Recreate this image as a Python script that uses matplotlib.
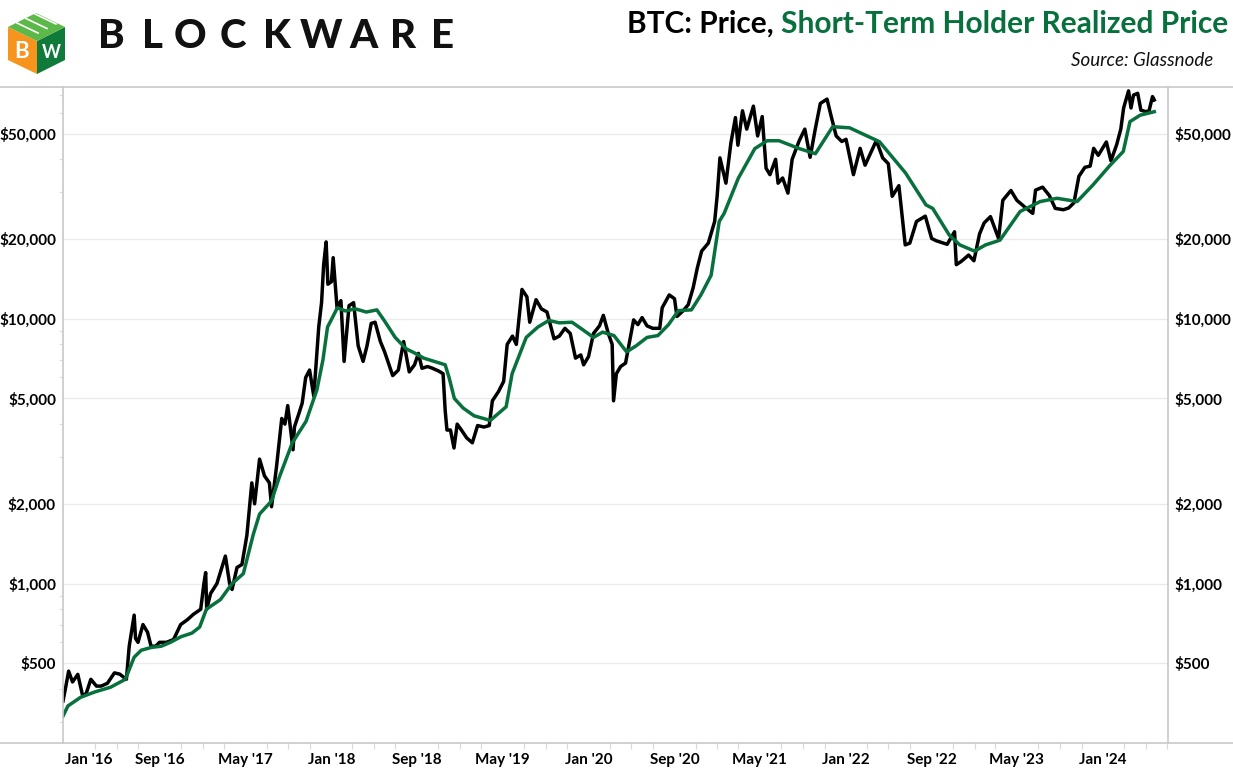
import pandas as pd
import matplotlib
matplotlib.use("Agg")
import matplotlib.pyplot as plt
import matplotlib.dates as mdates
import matplotlib.ticker as mticker
from matplotlib.lines import Line2D
from matplotlib.patches import Polygon
from matplotlib.transforms import ScaledTranslation

plt.rcParams['font.family'] = ['Lato', 'DejaVu Sans']

# BTC price
price_dates = [
    '2015-12-01', '2015-12-10', '2015-12-17', '2015-12-28', '2016-01-12', '2016-01-26', '2016-02-05',
    '2016-02-18', '2016-03-05', '2016-03-18', '2016-04-05', '2016-04-25', '2016-05-10', '2016-05-29',
    '2016-06-06', '2016-06-20', '2016-06-24', '2016-07-01', '2016-07-15', '2016-07-28', '2016-08-07',
    '2016-08-20', '2016-08-31', '2016-09-20', '2016-10-10', '2016-10-30', '2016-11-18', '2016-12-05',
    '2016-12-26', '2017-01-04', '2017-01-09', '2017-01-12', '2017-01-23', '2017-02-10', '2017-03-06',
    '2017-03-18', '2017-03-25', '2017-04-08', '2017-04-22', '2017-05-06', '2017-05-20', '2017-05-28',
    '2017-06-11', '2017-06-25', '2017-07-09', '2017-07-15', '2017-07-29', '2017-08-13', '2017-08-22',
    '2017-08-30', '2017-09-14', '2017-09-18', '2017-10-01', '2017-10-10', '2017-10-20', '2017-10-31',
    '2017-11-12', '2017-11-26', '2017-12-04', '2017-12-10', '2017-12-17', '2017-12-22', '2018-01-01',
    '2018-01-06', '2018-01-17', '2018-01-28', '2018-02-06', '2018-02-20', '2018-03-05', '2018-03-18',
    '2018-04-01', '2018-04-12', '2018-04-24', '2018-05-05', '2018-05-20', '2018-06-01', '2018-06-24',
    '2018-07-10', '2018-07-25', '2018-08-10', '2018-08-25', '2018-09-05', '2018-09-15', '2018-10-01',
    '2018-10-15', '2018-11-01', '2018-11-14', '2018-11-20', '2018-11-25', '2018-12-05', '2018-12-15',
    '2018-12-24', '2019-01-05', '2019-01-20', '2019-02-05', '2019-02-20', '2019-03-10', '2019-03-25',
    '2019-04-03', '2019-04-20', '2019-05-05', '2019-05-15', '2019-05-30', '2019-06-10', '2019-06-26',
    '2019-07-10', '2019-07-18', '2019-08-05', '2019-08-20', '2019-09-05', '2019-09-25', '2019-10-10',
    '2019-10-26', '2019-11-10', '2019-11-25', '2019-12-10', '2019-12-18', '2020-01-01', '2020-01-15',
    '2020-02-01', '2020-02-12', '2020-02-26', '2020-03-08', '2020-03-12', '2020-03-20', '2020-04-01',
    '2020-04-15', '2020-04-30', '2020-05-08', '2020-05-20', '2020-06-01', '2020-06-15', '2020-07-01',
    '2020-07-21', '2020-07-28', '2020-08-17', '2020-09-01', '2020-09-08', '2020-09-25', '2020-10-10',
    '2020-10-24', '2020-11-05', '2020-11-17', '2020-12-06', '2020-12-24', '2020-12-31', '2021-01-08',
    '2021-01-25', '2021-02-08', '2021-02-21', '2021-02-28', '2021-03-13', '2021-03-25', '2021-04-13',
    '2021-04-25', '2021-05-08', '2021-05-19', '2021-05-30', '2021-06-15', '2021-06-22', '2021-07-05',
    '2021-07-20', '2021-08-01', '2021-08-21', '2021-09-06', '2021-09-21', '2021-10-05', '2021-10-20',
    '2021-11-08', '2021-11-20', '2021-12-04', '2021-12-20', '2022-01-01', '2022-01-22', '2022-02-10',
    '2022-02-24', '2022-03-28', '2022-04-15', '2022-05-01', '2022-05-12', '2022-05-31', '2022-06-18',
    '2022-07-01', '2022-07-20', '2022-08-14', '2022-09-01', '2022-09-14', '2022-10-15', '2022-11-05',
    '2022-11-10', '2022-11-25', '2022-12-15', '2022-12-30', '2023-01-15', '2023-01-28', '2023-02-15',
    '2023-03-10', '2023-03-22', '2023-04-14', '2023-05-01', '2023-05-25', '2023-06-15', '2023-06-23',
    '2023-07-13', '2023-08-01', '2023-08-18', '2023-09-10', '2023-09-25', '2023-10-10', '2023-10-24',
    '2023-11-10', '2023-11-25', '2023-12-05', '2023-12-18', '2024-01-10', '2024-01-23', '2024-02-08',
    '2024-02-20', '2024-02-28', '2024-03-13', '2024-03-20', '2024-03-27', '2024-04-08', '2024-04-17',
    '2024-04-30', '2024-05-10', '2024-05-20', '2024-05-25',
]
price_vals = [
    360, 415, 467, 425, 454, 376, 385,
    435, 410, 410, 420, 460, 455, 435,
    580, 760, 620, 600, 700, 655, 580,
    580, 600, 600, 615, 700, 730, 765,
    800, 1000, 1100, 800, 917, 1000, 1270,
    1000, 950, 1150, 1180, 1520, 2400, 2000,
    2950, 2550, 2400, 1950, 2750, 4200, 4000,
    4700, 3200, 3900, 4400, 4800, 6000, 6400,
    5100, 9300, 11500, 16000, 19500, 13500, 13800,
    17000, 11000, 11700, 6900, 11200, 11500, 7900,
    6900, 7900, 9600, 9700, 8200, 7500, 6100,
    6400, 8200, 6300, 6700, 7400, 6500, 6600,
    6500, 6350, 6200, 4500, 3800, 3800, 3250,
    4000, 3800, 3550, 3400, 3950, 3900, 3950,
    4900, 5300, 5800, 8000, 8600, 8000, 12900,
    12100, 9700, 11800, 10900, 10600, 8400, 8600,
    9200, 8800, 7100, 7300, 6700, 7200, 8800,
    9400, 10300, 8800, 8000, 4900, 6200, 6600,
    6800, 8700, 9900, 9500, 10100, 9400, 9200,
    9200, 11000, 12300, 11900, 10200, 10700, 11300,
    13100, 15600, 18000, 19300, 23300, 29000, 40500,
    32500, 46000, 57500, 45200, 61000, 52000, 63500,
    49000, 58000, 37000, 35000, 40000, 32500, 34000,
    29800, 40000, 47000, 52000, 40700, 51500, 65000,
    67500, 58000, 49000, 46700, 47600, 35000, 44000,
    38000, 47100, 40500, 38500, 29000, 31800, 19000,
    19300, 23300, 24400, 20100, 19700, 19100, 21300,
    16000, 16500, 17400, 16550, 20900, 23000, 24300,
    20100, 28000, 30500, 28000, 26300, 25000, 30600,
    31400, 29200, 26100, 25800, 26200, 27400, 34500,
    37300, 37700, 44000, 41400, 46500, 39500, 45300,
    52000, 62500, 72500, 62500, 69900, 71000, 61300,
    60600, 60800, 69000, 67000,
]

# Short-term holder realized price
sth_dates = [
    '2015-12-01', '2015-12-15', '2016-01-20', '2016-03-01', '2016-04-14', '2016-05-26', '2016-06-20',
    '2016-07-10', '2016-08-08', '2016-09-05', '2016-10-01', '2016-10-31', '2016-12-01', '2016-12-23',
    '2017-01-11', '2017-02-20', '2017-03-25', '2017-04-26', '2017-05-24', '2017-06-11', '2017-07-15',
    '2017-08-06', '2017-09-12', '2017-10-21', '2017-11-21', '2017-12-08', '2017-12-21', '2018-01-18',
    '2018-02-10', '2018-03-10', '2018-04-10', '2018-05-10', '2018-06-01', '2018-07-01', '2018-08-01',
    '2018-08-23', '2018-09-20', '2018-10-20', '2018-11-20', '2018-12-01', '2018-12-16', '2019-01-10',
    '2019-02-10', '2019-03-28', '2019-05-12', '2019-05-29', '2019-07-08', '2019-08-10', '2019-09-10',
    '2019-10-10', '2019-11-15', '2019-12-15', '2020-01-15', '2020-02-10', '2020-03-13', '2020-04-18',
    '2020-05-15', '2020-06-15', '2020-07-16', '2020-08-15', '2020-09-12', '2020-10-19', '2020-11-15',
    '2020-12-14', '2021-01-06', '2021-01-20', '2021-03-01', '2021-04-17', '2021-05-22', '2021-06-25',
    '2021-08-21', '2021-10-06', '2021-11-24', '2022-01-11', '2022-04-06', '2022-06-19', '2022-08-16',
    '2022-09-04', '2022-10-21', '2022-11-20', '2023-01-01', '2023-02-01', '2023-03-14', '2023-05-10',
    '2023-07-06', '2023-08-23', '2023-10-19', '2023-12-02', '2024-01-20', '2024-02-27', '2024-03-17',
    '2024-04-15', '2024-05-25',
]
sth_vals = [
    316, 345, 372, 390, 406, 435, 527,
    560, 574, 580, 600, 630, 650, 685,
    800, 870, 1000, 1090, 1530, 1830, 2050,
    2520, 3400, 4100, 5400, 7000, 9300, 11000,
    10700, 10900, 10600, 10800, 9800, 8500, 7700,
    7450, 7100, 6900, 6700, 6000, 5000, 4600,
    4300, 4130, 4650, 6200, 8500, 9300, 9850,
    9650, 9700, 9100, 8500, 8900, 8640, 7500,
    7900, 8500, 8640, 9500, 10730, 10800, 12300,
    14600, 23300, 25000, 33900, 43900, 47000, 47000,
    43900, 42000, 53100, 52600, 46600, 35500, 26900,
    26100, 20700, 19000, 18000, 19000, 19800, 25400,
    27700, 28500, 27700, 31900, 37900, 42800, 55500,
    58700, 60500,
]

y_ticks = [500, 1000, 2000, 5000, 10000, 20000, 50000]
x_label_dates = ['2016-01-01', '2016-09-01', '2017-05-01', '2018-01-01', '2018-09-01',
                 '2019-05-01', '2020-01-01', '2020-09-01', '2021-05-01', '2022-01-01',
                 '2022-09-01', '2023-05-01', '2024-01-01']

green = '#08703c'
grid_c = '#ebebeb'
frame_c = '#c8c8c8'

W, H = 1233, 774
fig = plt.figure(figsize=(W / 100, H / 100), dpi=100)
ax = fig.add_axes([63 / W, (H - 743) / H, (1168 - 63) / W, (743 - 87) / H])

ax.plot(pd.to_datetime(price_dates), price_vals, color='black', lw=2.5, solid_joinstyle='round')
ax.plot(pd.to_datetime(sth_dates), sth_vals, color=green, lw=2.5, solid_joinstyle='round')

ax.set_yscale('log')
ax.set_ylim(250, 75000)
ax.set_xlim(pd.Timestamp('2015-12-01'), pd.Timestamp('2024-07-03'))

ax.yaxis.set_major_locator(mticker.FixedLocator(y_ticks))
ax.yaxis.set_major_formatter(mticker.FuncFormatter(lambda v, p: '${:,.0f}'.format(v)))
ax.yaxis.set_minor_locator(mticker.LogLocator(base=10, subs=range(2, 10)))
ax.yaxis.set_minor_formatter(mticker.NullFormatter())
ax.tick_params(axis='y', which='major', length=0, labelsize=11, pad=5,
               labelleft=True, labelright=True, colors='black')
ax.tick_params(axis='y', which='minor', length=3, color='#dddddd', width=0.8, left=True, right=False)
ax.grid(axis='y', which='major', color=grid_c, lw=1)

ax.set_xticks(pd.to_datetime(x_label_dates))
ax.set_xticklabels([pd.Timestamp(d).strftime("%b '%y") for d in x_label_dates])
ax.xaxis.set_minor_locator(mdates.MonthLocator(bymonth=range(1, 13, 2)))
ax.tick_params(axis='x', which='major', length=0, labelsize=11, pad=7)
ax.tick_params(axis='x', which='minor', length=4, color='#d8d8d8', width=0.8)
for lab in ax.get_xticklabels() + ax.get_yticklabels():
    lab.set_fontweight('bold')

# first date label sits pushed right, inside the plot
first = ax.get_xticklabels()[0]
first.set_transform(first.get_transform() + ScaledTranslation(15 / 100, 0, fig.dpi_scale_trans))

for s in ['top', 'bottom']:
    ax.spines[s].set_visible(False)
for s in ['left', 'right']:
    ax.spines[s].set_color(frame_c)
    ax.spines[s].set_linewidth(1.2)

# frame lines running across the whole figure
for yy in [87, 743]:
    fig.add_artist(Line2D([0, 1], [(H - yy) / H] * 2, color=frame_c, lw=1.2))

# title, right aligned, two colours
t2 = fig.text(1228 / W, (H - 38) / H, 'Short-Term Holder Realized Price', color=green,
              fontsize=21.5, fontweight='bold', ha='right', va='bottom')
ax.annotate('BTC: Price, ', xy=(0, 0), xycoords=t2, ha='right', va='bottom',
            fontsize=21.5, fontweight='bold', color='black', annotation_clip=False)
fig.text(1213 / W, (H - 61) / H, 'Source: Glassnode', fontsize=13.5, style='italic',
         ha='right', va='center', color='#111111')

# logo
def px(x, y):
    return (x / W, (H - y) / H)

faces = [
    ([(8, 27), (37, 41), (37, 74), (8, 60)], '#f7941d'),
    ([(37, 41), (65, 27), (65, 60), (37, 74)], '#0f7a3a'),
    ([(8, 27), (36, 13), (65, 27), (37, 41)], '#5cb848'),
]
for pts, c in faces:
    fig.add_artist(Polygon([px(*p) for p in pts], closed=True, fc=c, ec='none',
                           transform=fig.transFigure))
for k in range(3):
    a = px(17 + k * 9, 23 - k * 4.5)
    b = px(38 + k * 9, 33 - k * 4.5)
    fig.add_artist(Line2D([a[0], b[0]], [a[1], b[1]], color='white', lw=1.2,
                          transform=fig.transFigure))
fig.text(*px(22, 52), 'B', color='white', fontsize=16, fontweight='bold', ha='center', va='center')
fig.text(*px(51, 52), 'W', color='white', fontsize=13, fontweight='bold', ha='center', va='center')

letters = 'BLOCKWARE'
centers = [111, 152, 190, 233, 277, 321, 363, 403, 443]
for ch, cx in zip(letters, centers):
    fig.text(*px(cx, 37), ch, fontsize=29, fontweight='black', ha='center', va='center',
             color='#111111')

fig.savefig('out.png', dpi=100)
